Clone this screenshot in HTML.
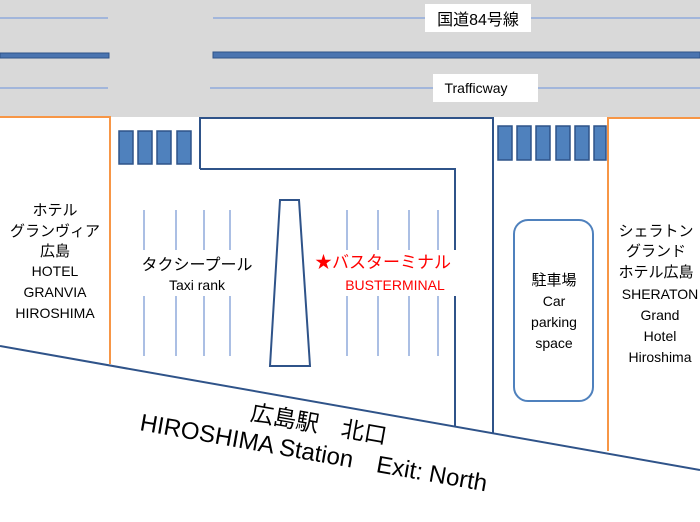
<!DOCTYPE html>
<html><head><meta charset="utf-8"><style>
html,body{margin:0;padding:0;background:#fff;}
svg{display:block;}
text{font-family:"Liberation Sans","Noto Sans CJK JP",sans-serif;}
</style></head><body>
<svg width="700" height="522" viewBox="0 0 700 522" xmlns="http://www.w3.org/2000/svg">
<rect x="0" y="0" width="700" height="117" fill="#d9d9d9"/>
<g stroke="#8faadc" stroke-width="1.5">
<line x1="0" y1="18" x2="108" y2="18"/><line x1="213" y1="18" x2="700" y2="18"/>
<line x1="0" y1="88" x2="108" y2="88"/><line x1="210" y1="88" x2="700" y2="88"/>
</g>
<g fill="#4a74b0" stroke="#2f5389" stroke-width="1">
<rect x="0" y="53" width="109" height="5"/><rect x="213" y="52" width="487" height="6"/>
</g>
<rect x="425" y="4" width="106" height="28" fill="#fff"/>
<text x="478" y="25" font-size="16" text-anchor="middle">国道84号線</text>
<rect x="433" y="74" width="105" height="28" fill="#fff"/>
<text x="476" y="93" font-size="14" text-anchor="middle">Trafficway</text>
<g fill="none" stroke="#f79646" stroke-width="2">
<path d="M0 117 H110 V364"/><path d="M700 118 H608 V451"/>
</g>
<g fill="#4f81bd" stroke="#2f5389" stroke-width="1.5">
<rect x="119" y="131" width="14" height="33"/><rect x="138" y="131" width="14" height="33"/>
<rect x="157" y="131" width="14" height="33"/><rect x="177" y="131" width="14" height="33"/>
<rect x="498" y="126" width="14" height="34"/><rect x="517" y="126" width="14" height="34"/>
<rect x="536" y="126" width="14" height="34"/><rect x="556" y="126" width="14" height="34"/>
<rect x="575" y="126" width="14" height="34"/><rect x="594" y="126" width="12" height="34"/>
</g>
<path d="M200 169 V118 H493 V435 M200 169 H455 V427" fill="none" stroke="#2f5389" stroke-width="2"/>
<g stroke="#8faadc" stroke-width="1.5">
<line x1="144" y1="210" x2="144" y2="356"/><line x1="176" y1="210" x2="176" y2="356"/>
<line x1="204" y1="210" x2="204" y2="356"/><line x1="230" y1="210" x2="230" y2="356"/>
<line x1="347" y1="210" x2="347" y2="356"/><line x1="378" y1="210" x2="378" y2="356"/>
<line x1="409" y1="210" x2="409" y2="356"/><line x1="438" y1="210" x2="438" y2="356"/>
</g>
<polygon points="280,200 299,200 310,366 270,366" fill="#fff" stroke="#2f5389" stroke-width="2"/>
<rect x="134" y="250" width="124" height="46" fill="#fff"/>
<text x="197" y="270" font-size="16" text-anchor="middle">タクシープール</text>
<text x="197" y="290" font-size="14" text-anchor="middle">Taxi rank</text>
<rect x="310" y="250" width="150" height="46" fill="#fff"/>
<text x="383" y="268" font-size="17" fill="#ff0000" text-anchor="middle">★バスターミナル</text>
<text x="395" y="290" font-size="14" fill="#ff0000" text-anchor="middle">BUSTERMINAL</text>
<rect x="514" y="220" width="79" height="181" rx="14" fill="none" stroke="#4f81bd" stroke-width="2"/>
<g font-size="14" text-anchor="middle">
<text x="554" y="285" font-size="15">駐車場</text>
<text x="554" y="306">Car</text><text x="554" y="327">parking</text><text x="554" y="348">space</text>
<text x="55" y="215" font-size="15">ホテル</text>
<text x="55" y="236" font-size="15">グランヴィア</text>
<text x="55" y="256" font-size="15">広島</text>
<text x="55" y="276">HOTEL</text><text x="55" y="297">GRANVIA</text><text x="55" y="318">HIROSHIMA</text>
<text x="656" y="236" font-size="15">シェラトン</text>
<text x="656" y="256" font-size="15">グランド</text>
<text x="656" y="277" font-size="15">ホテル広島</text>
<text x="660" y="299">SHERATON</text><text x="660" y="320">Grand</text><text x="660" y="341">Hotel</text><text x="660" y="362">Hiroshima</text>
</g>
<polygon points="0,346 700,470 700,522 0,522" fill="#fff"/>
<line x1="0" y1="346" x2="700" y2="470" stroke="#2f5389" stroke-width="2"/>
<g transform="rotate(10.05 316 440)">
<text x="316" y="432" font-size="23" text-anchor="middle">広島駅　北口</text>
<text x="316" y="461" font-size="24" text-anchor="middle">HIROSHIMA Station　Exit: North</text>
</g>
</svg>
</body></html>
